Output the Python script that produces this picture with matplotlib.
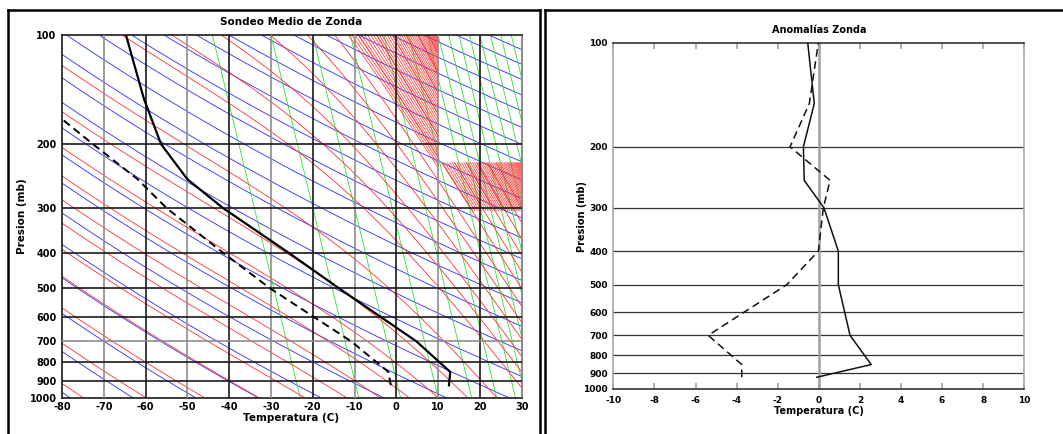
import numpy as np
import matplotlib.pyplot as plt
from matplotlib.lines import Line2D
from matplotlib.ticker import NullLocator

plt.rcParams['axes.unicode_minus'] = False
plt.rcParams['font.family'] = ['Liberation Sans Narrow', 'DejaVu Sans']
plt.rcParams['font.weight'] = 'bold'

# niveles obligatorios (mb)
niveles = [925, 850, 700, 500, 400, 300, 250, 200, 150, 100]
# sondeo medio de Zonda (C)
temp = [12.6, 12.9, 4.8, -13.7, -25.6, -41.5, -50.0, -56.3, -60.4, -64.7]
rocio = [-1.3, -1.9, -10.8, -30.2, -41.3, -55.0, -61.9, -72.6, -86.0, -90.0]
# anomalias (C)
anom_t = [-0.1, 2.55, 1.52, 0.95, 0.95, 0.25, -0.71, -0.75, -0.22, -0.54]
anom_td = [-3.75, -3.75, -5.38, -1.56, -0.02, 0.22, 0.55, -1.4, -0.46, -0.02]

pres_ticks = [100, 200, 300, 400, 500, 600, 700, 800, 900, 1000]

# lineas de fondo del diagrama
tetas = np.arange(195, 601, 15)                     # adiabaticas secas (K)
mezcla_top = [-44, -30, -20, -11, -3, 3, 7.5, 10, 12.5, 15, 17.5, 20,
              22.5, 25, 27.5, 30]                    # T en 100 mb de las lineas verdes
humeda_base = [-75, -60, -46, -33, -22, -12, -4, 3, 10, 17, 24]   # T en 1000 mb
humeda_borde = [940, 850, 770, 690, 620, 560, 500, 450, 405, 365, 330, 300]  # p en 30 C

azul, rojo, verde = '#2a2aff', '#ff3030', '#30e030'


def es(tc):
    return 6.112 * np.exp(17.67 * tc / (tc + 243.5))


def adiabata_seca(theta, p):
    return theta * (p / 1000.0) ** 0.2857 - 273.15


def linea_verde(t_top, p):
    return t_top + 21.0 * (np.log10(p) - 2.0)


def dtdlnp(tk, p):
    e = es(tk - 273.15)
    rs = 0.622 * e / np.maximum(p - e, 1.0)
    num = 287.0 * tk + 2.5e6 * rs
    den = 1004.0 + 2.5e6 ** 2 * rs * 0.622 / (287.0 * tk ** 2)
    return num / den


def adiabatas_humedas(t0, p0, p1, n=400):
    tk0 = np.asarray(t0, float) + 273.15
    p0 = np.broadcast_to(np.asarray(p0, float), tk0.shape)
    lnp = np.linspace(np.log(p0), np.full(tk0.shape, np.log(p1)), n)
    tk = np.empty_like(lnp)
    tk[0] = tk0
    for i in range(1, n):
        h = lnp[i] - lnp[i - 1]
        k1 = dtdlnp(tk[i - 1], np.exp(lnp[i - 1]))
        k2 = dtdlnp(tk[i - 1] + h * k1, np.exp(lnp[i]))
        tk[i] = tk[i - 1] + 0.5 * h * (k1 + k2)
    return tk - 273.15, np.exp(lnp)


W, H = 1063, 434
fig = plt.figure(figsize=(W / 100, H / 100), dpi=100)


def fx(px):
    return px / W


def fy(py):
    return 1 - py / H


ax1 = fig.add_axes([fx(62), fy(397.5), fx(521.7) - fx(62), fy(35) - fy(397.5)])
ax2 = fig.add_axes([fx(613.3), fy(389), fx(1024.3) - fx(613.3), fy(42.5) - fy(389)])

# ---------------- diagrama (izquierda) ----------------
p = np.logspace(2, 3, 300)
for th in tetas:
    ax1.plot(adiabata_seca(th, p), p, color=azul, lw=0.6, zorder=2)
for tt in mezcla_top:
    ax1.plot(linea_verde(tt, p), p, color=verde, lw=0.6, zorder=2)

# adiabaticas humedas desde la base y desde el borde derecho
t_a, p_a = adiabatas_humedas(humeda_base, 1000.0, 100.0)
t_b, p_b = adiabatas_humedas(np.full(len(humeda_borde), 30.0), humeda_borde, 100.0)
for t_h, p_h in [(t_a, p_a), (t_b, p_b)]:
    t_h = t_h.copy()
    t_h[(p_h < 225) & (t_h > 10)] = np.nan
    ax1.plot(t_h, p_h, color=rojo, lw=0.6, zorder=2)

# zonas densas de adiabaticas humedas
u = np.linspace(0, 1, 55)
t_c, p_c = adiabatas_humedas(10.5 - 22 * u ** 2, 100.0, 240.0)
t_c[t_c > 10] = np.nan
ax1.plot(t_c, p_c, color=rojo, lw=0.5, zorder=2)

u = np.linspace(0, 1, 60)
t_d, p_d = adiabatas_humedas(31 - 20 * u ** 1.8, 225.0, 305.0)
t_d[t_d < 11.2] = np.nan
ax1.plot(t_d, p_d, color=rojo, lw=0.5, zorder=2)

# cuadricula
for i, t in enumerate(range(-70, 31, 10)):
    ax1.axvline(t, color='#8c8c8c' if i % 2 == 0 else '#1a1a1a', lw=1.2, zorder=3)
for pr in pres_ticks[1:-1]:
    ax1.axhline(pr, color='#8c8c8c' if pr == 700 else '#1a1a1a', lw=1.2, zorder=3)

ax1.plot(temp, niveles, color='black', lw=1.6, zorder=5)
ax1.plot(rocio, niveles, color='black', lw=1.4, ls=(0, (4, 2.5)), zorder=5)

ax1.set_yscale('log')
ax1.set_ylim(1000, 100)
ax1.set_xlim(-80, 30)
ax1.set_yticks(pres_ticks)
ax1.set_yticklabels([str(v) for v in pres_ticks])
ax1.yaxis.set_minor_locator(NullLocator())
ax1.set_xticks(range(-80, 31, 10))
ax1.tick_params(length=0, labelsize=7, pad=3)
ax1.tick_params(axis='y', pad=4)
for s in ['left', 'top', 'bottom']:
    ax1.spines[s].set_color('#1a1a1a')
    ax1.spines[s].set_linewidth(1.2)
ax1.spines['right'].set_color('#8c8c8c')
ax1.spines['right'].set_linewidth(1.5)

fig.text(fx(291.5), fy(22), 'Sondeo Medio de Zonda', ha='center', va='center', fontsize=7.5)
fig.text(fx(291.5), fy(418), 'Temperatura (C)', ha='center', va='center', fontsize=7.5)
fig.text(fx(22), fy(216), 'Presion (mb)', ha='center', va='center', rotation=90, fontsize=7.5)

# ---------------- anomalias (derecha) ----------------
for pr in pres_ticks[1:-1]:
    ax2.axhline(pr, color='#333333', lw=0.9, zorder=2)
ax2.axvline(0, color='#a0a0a0', lw=1.8, zorder=2)
ax2.plot(anom_t, niveles, color='#111111', lw=1.1, zorder=4)
ax2.plot(anom_td, niveles, color='#111111', lw=1.1, ls=(0, (5, 3)), zorder=4)

ax2.set_yscale('log')
ax2.set_ylim(1000, 100)
ax2.set_xlim(-10, 10)
ax2.set_yticks(pres_ticks)
ax2.set_yticklabels([str(v) for v in pres_ticks])
ax2.yaxis.set_minor_locator(NullLocator())
ax2.set_xticks(range(-10, 11, 2))
ax2.tick_params(axis='y', length=0, labelsize=6.5, pad=4)
ax2.tick_params(axis='x', direction='in', top=True, length=4, width=1.2,
                color='#a0a0a0', labelsize=6.5, pad=5)
ax2.spines['top'].set_color('#333333')
ax2.spines['bottom'].set_color('#333333')
ax2.spines['left'].set_color('#a8a8a8')
ax2.spines['right'].set_color('#a8a8a8')
for s in ax2.spines.values():
    s.set_linewidth(1.2)

fig.text(fx(818.8), fy(30), 'Anomalías Zonda', ha='center', va='center', fontsize=7)
fig.text(fx(818.8), fy(411), 'Temperatura (C)', ha='center', va='center', fontsize=7)
fig.text(fx(582), fy(216), 'Presion (mb)', ha='center', va='center', rotation=90, fontsize=7)

# marcos de los paneles
for xs, ys in [([7.5, 7.5], [434, 9.5]), ([7.5, 540], [9.5, 9.5]), ([540, 540], [9.5, 434]),
               ([544.5, 544.5], [434, 9.5]), ([544.5, 1062], [9.5, 9.5])]:
    fig.add_artist(Line2D([fx(v) for v in xs], [fy(v) for v in ys], color='black', lw=1.8))

fig.savefig('out.png', dpi=100)
